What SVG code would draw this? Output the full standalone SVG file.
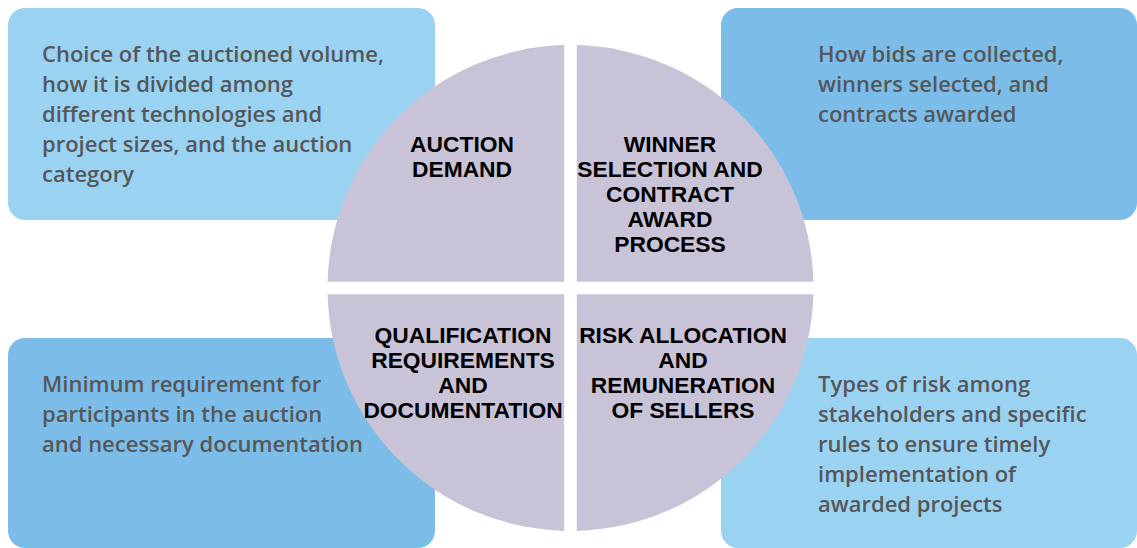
<svg xmlns="http://www.w3.org/2000/svg" width="1137" height="548" viewBox="0 0 1137 548">
<style>
.light{fill:#9AD2F2}
.mid{fill:#7BBDE8}
.quad{fill:#C9C3D7}
.body{font-family:"Open Sans","Liberation Sans",sans-serif;font-size:22px;font-weight:600;fill:#555759}
.lab{font-family:"Liberation Sans",Arial,sans-serif;font-size:22.8px;font-weight:bold;fill:#000;text-anchor:middle}
</style>
<rect width="1137" height="548" fill="#fff"/>
<g id="box-demand">
<rect class="light" x="8" y="8" width="427" height="212" rx="17"/>
<text class="body" x="42" y="62">Choice of the auctioned volume,</text>
<text class="body" x="42" y="92">how it is divided among</text>
<text class="body" x="42" y="122">different technologies and</text>
<text class="body" x="42" y="152">project sizes, and the auction</text>
<text class="body" x="42" y="182">category</text>
</g>
<g id="box-winner">
<rect class="mid" x="721" y="8" width="416" height="212" rx="17"/>
<text class="body" x="818" y="62">How bids are collected,</text>
<text class="body" x="818" y="92">winners selected, and</text>
<text class="body" x="818" y="122">contracts awarded</text>
</g>
<g id="box-qualification">
<rect class="mid" x="8" y="338" width="427" height="210" rx="17"/>
<text class="body" x="42" y="392">Minimum requirement for</text>
<text class="body" x="42" y="422">participants in the auction</text>
<text class="body" x="42" y="452">and necessary documentation</text>
</g>
<g id="box-risk">
<rect class="light" x="721" y="338" width="416" height="210" rx="17"/>
<text class="body" x="818" y="392">Types of risk among</text>
<text class="body" x="818" y="422">stakeholders and specific</text>
<text class="body" x="818" y="452">rules to ensure timely</text>
<text class="body" x="818" y="482">implementation of</text>
<text class="body" x="818" y="512">awarded projects</text>
</g>
<g id="quad-demand">
<path class="quad" d="M564.2,281.7 L564.2,45.1 A243,243 0 0 0 327.6,281.7 Z"/>
<text class="lab" x="462" y="152">AUCTION</text>
<text class="lab" x="462" y="177">DEMAND</text>
</g>
<g id="quad-winner">
<path class="quad" d="M576.8,281.7 L576.8,45.1 A243,243 0 0 1 813.4,281.7 Z"/>
<text class="lab" x="670" y="152">WINNER</text>
<text class="lab" x="670" y="177">SELECTION AND</text>
<text class="lab" x="670" y="202">CONTRACT</text>
<text class="lab" x="670" y="227">AWARD</text>
<text class="lab" x="670" y="252">PROCESS</text>
</g>
<g id="quad-qualification">
<path class="quad" d="M564.2,294.3 L564.2,530.9 A243,243 0 0 1 327.6,294.3 Z"/>
<text class="lab" x="463" y="343">QUALIFICATION</text>
<text class="lab" x="463" y="368">REQUIREMENTS</text>
<text class="lab" x="463" y="393">AND</text>
<text class="lab" x="463" y="418">DOCUMENTATION</text>
</g>
<g id="quad-risk">
<path class="quad" d="M576.8,294.3 L576.8,530.9 A243,243 0 0 0 813.4,294.3 Z"/>
<text class="lab" x="683" y="343">RISK ALLOCATION</text>
<text class="lab" x="683" y="368">AND</text>
<text class="lab" x="683" y="393">REMUNERATION</text>
<text class="lab" x="683" y="418">OF SELLERS</text>
</g>
<g id="connectors"/>
</svg>
